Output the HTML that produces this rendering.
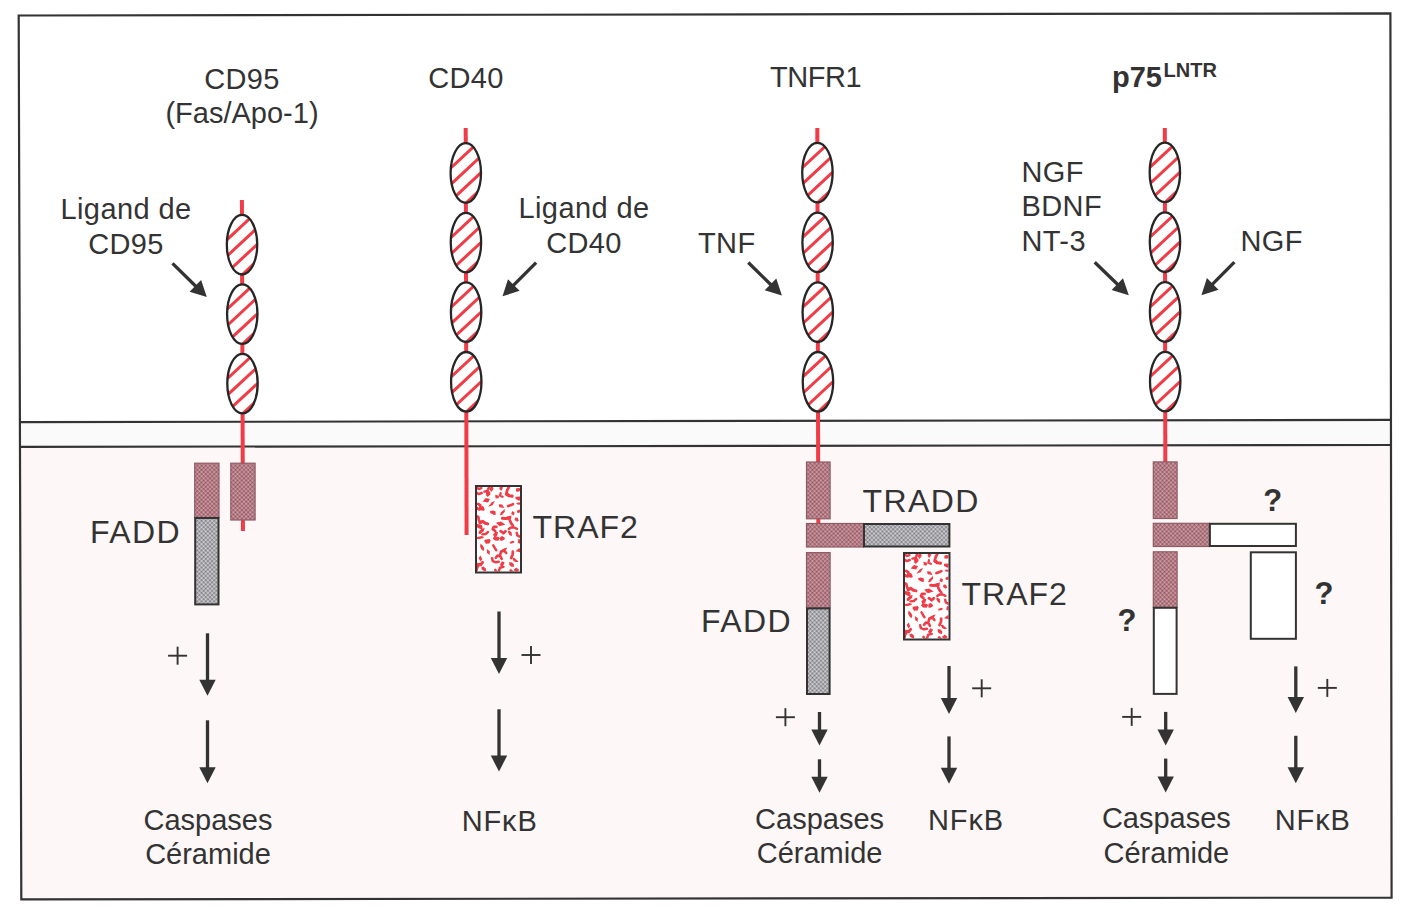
<!DOCTYPE html>
<html><head><meta charset="utf-8"><style>
html,body{margin:0;padding:0;background:#ffffff;}
body{width:1409px;height:911px;overflow:hidden;}
svg{display:block;}
text{font-family:"Liberation Sans", sans-serif;fill:#333333;}
</style></head><body>
<svg width="1409" height="911" viewBox="0 0 1409 911">
<defs><pattern id="pm" width="3" height="3" patternUnits="userSpaceOnUse" patternTransform="rotate(45)"><rect width="3" height="3" fill="#b17a82"/><rect x="0" y="0" width="1.5" height="1.5" fill="#8c5462"/><rect x="1.5" y="1.5" width="1.5" height="1.5" fill="#daa6ae"/></pattern><pattern id="pg" width="3" height="3" patternUnits="userSpaceOnUse" patternTransform="rotate(45)"><rect width="3" height="3" fill="#abaaae"/><rect x="0" y="0" width="1.5" height="1.5" fill="#78787c"/><rect x="1.5" y="1.5" width="1.5" height="1.5" fill="#d8d8dc"/></pattern></defs>
<polygon points="20,446.9 1391,445.0 1391,898.5 21,899.5" fill="#fdf7f7"/>
<polygon points="20,422.1 1391,419.9 1391,445.0 20,446.9" fill="#fafafa"/>
<line x1="19" y1="422.1" x2="1391" y2="419.9" stroke="#333333" stroke-width="2.1"/>
<line x1="20" y1="446.9" x2="1391" y2="445.0" stroke="#333333" stroke-width="2.1"/>
<path d="M18.7,15.5 L1390.4,13.4 L1391.6,897.6 L21.3,899.4 Z" fill="none" stroke="#333333" stroke-width="2.2" stroke-linejoin="miter"/>
<line x1="241.9" y1="200" x2="242.96" y2="531" stroke="#f03c46" stroke-width="4"/>
<clipPath id="c1"><ellipse cx="242.04" cy="244.7" rx="15.2" ry="29.8"/></clipPath>
<ellipse cx="242.04" cy="244.7" rx="15.2" ry="29.8" fill="#ffffff"/>
<g clip-path="url(#c1)" stroke="#f03c46" stroke-width="3.0"><line x1="220.04" y1="246.16" x2="264.03999999999996" y2="205.24"/><line x1="220.04" y1="262.56" x2="264.03999999999996" y2="221.64"/><line x1="220.04" y1="278.96" x2="264.03999999999996" y2="238.04"/><line x1="220.04" y1="295.36" x2="264.03999999999996" y2="254.44"/></g>
<ellipse cx="242.04" cy="244.7" rx="15.2" ry="29.8" fill="none" stroke="#262626" stroke-width="2.3"/>
<clipPath id="c2"><ellipse cx="242.27" cy="314.1" rx="15.2" ry="29.8"/></clipPath>
<ellipse cx="242.27" cy="314.1" rx="15.2" ry="29.8" fill="#ffffff"/>
<g clip-path="url(#c2)" stroke="#f03c46" stroke-width="3.0"><line x1="220.27" y1="315.56" x2="264.27" y2="274.64"/><line x1="220.27" y1="331.96" x2="264.27" y2="291.04"/><line x1="220.27" y1="348.36" x2="264.27" y2="307.44"/><line x1="220.27" y1="364.76" x2="264.27" y2="323.84"/></g>
<ellipse cx="242.27" cy="314.1" rx="15.2" ry="29.8" fill="none" stroke="#262626" stroke-width="2.3"/>
<clipPath id="c3"><ellipse cx="242.49" cy="383.6" rx="15.2" ry="29.8"/></clipPath>
<ellipse cx="242.49" cy="383.6" rx="15.2" ry="29.8" fill="#ffffff"/>
<g clip-path="url(#c3)" stroke="#f03c46" stroke-width="3.0"><line x1="220.49" y1="385.06" x2="264.49" y2="344.14"/><line x1="220.49" y1="401.46" x2="264.49" y2="360.54"/><line x1="220.49" y1="417.86" x2="264.49" y2="376.94"/><line x1="220.49" y1="434.26" x2="264.49" y2="393.34"/></g>
<ellipse cx="242.49" cy="383.6" rx="15.2" ry="29.8" fill="none" stroke="#262626" stroke-width="2.3"/>
<rect x="194.7" y="463.2" width="24.30000000000001" height="54.30000000000001" fill="url(#pm)" stroke="#8e5c66" stroke-width="1.2"/>
<rect x="195.2" y="518" width="23.30000000000001" height="86.39999999999998" fill="url(#pg)" stroke="#333333" stroke-width="2"/>
<rect x="230.8" y="463.2" width="24.299999999999983" height="56.80000000000001" fill="url(#pm)" stroke="#8e5c66" stroke-width="1.2"/>
<line x1="465.7" y1="128" x2="466.60" y2="535" stroke="#f03c46" stroke-width="4"/>
<clipPath id="c4"><ellipse cx="465.8" cy="173" rx="15.2" ry="29.8"/></clipPath>
<ellipse cx="465.8" cy="173" rx="15.2" ry="29.8" fill="#ffffff"/>
<g clip-path="url(#c4)" stroke="#f03c46" stroke-width="3.0"><line x1="443.8" y1="174.46" x2="487.8" y2="133.54"/><line x1="443.8" y1="190.86" x2="487.8" y2="149.94"/><line x1="443.8" y1="207.26" x2="487.8" y2="166.34"/><line x1="443.8" y1="223.66" x2="487.8" y2="182.74"/></g>
<ellipse cx="465.8" cy="173" rx="15.2" ry="29.8" fill="none" stroke="#262626" stroke-width="2.3"/>
<clipPath id="c5"><ellipse cx="465.95" cy="242.6" rx="15.2" ry="29.8"/></clipPath>
<ellipse cx="465.95" cy="242.6" rx="15.2" ry="29.8" fill="#ffffff"/>
<g clip-path="url(#c5)" stroke="#f03c46" stroke-width="3.0"><line x1="443.95" y1="244.06" x2="487.95" y2="203.14"/><line x1="443.95" y1="260.46" x2="487.95" y2="219.54"/><line x1="443.95" y1="276.86" x2="487.95" y2="235.94"/><line x1="443.95" y1="293.26" x2="487.95" y2="252.34"/></g>
<ellipse cx="465.95" cy="242.6" rx="15.2" ry="29.8" fill="none" stroke="#262626" stroke-width="2.3"/>
<clipPath id="c6"><ellipse cx="466.11" cy="312.2" rx="15.2" ry="29.8"/></clipPath>
<ellipse cx="466.11" cy="312.2" rx="15.2" ry="29.8" fill="#ffffff"/>
<g clip-path="url(#c6)" stroke="#f03c46" stroke-width="3.0"><line x1="444.11" y1="313.66" x2="488.11" y2="272.74"/><line x1="444.11" y1="330.06" x2="488.11" y2="289.14"/><line x1="444.11" y1="346.46" x2="488.11" y2="305.54"/><line x1="444.11" y1="362.86" x2="488.11" y2="321.94"/></g>
<ellipse cx="466.11" cy="312.2" rx="15.2" ry="29.8" fill="none" stroke="#262626" stroke-width="2.3"/>
<clipPath id="c7"><ellipse cx="466.26" cy="381.8" rx="15.2" ry="29.8"/></clipPath>
<ellipse cx="466.26" cy="381.8" rx="15.2" ry="29.8" fill="#ffffff"/>
<g clip-path="url(#c7)" stroke="#f03c46" stroke-width="3.0"><line x1="444.26" y1="383.26" x2="488.26" y2="342.34"/><line x1="444.26" y1="399.66" x2="488.26" y2="358.74"/><line x1="444.26" y1="416.06" x2="488.26" y2="375.14"/><line x1="444.26" y1="432.46" x2="488.26" y2="391.54"/></g>
<ellipse cx="466.26" cy="381.8" rx="15.2" ry="29.8" fill="none" stroke="#262626" stroke-width="2.3"/>
<rect x="475" y="485" width="47" height="88.5" fill="#ffffff"/>
<clipPath id="t475"><rect x="477" y="487" width="43" height="84.5"/></clipPath>
<g clip-path="url(#t475)" fill="#f03c46"><path d="M481.3,488.2 L478.8,489.0 L476.3,487.4 L474.6,485.4" fill="none" stroke="#f03c46" stroke-width="2.4" stroke-linecap="round" stroke-linejoin="round"/><path d="M484.4,491.6 L487.5,490.9 L488.4,488.6 L489.5,486.4" fill="none" stroke="#f03c46" stroke-width="2.5" stroke-linecap="round" stroke-linejoin="round"/><polygon points="491.4,491.9 489.2,489.1 492.4,484.8 493.5,488.9"/><polygon points="501.2,491.0 499.3,489.0 500.3,484.4 503.0,487.7"/><path d="M508.8,487.5 L507.5,489.5 L506.5,492.9 L508.7,495.3" fill="none" stroke="#f03c46" stroke-width="2.7" stroke-linecap="round" stroke-linejoin="round"/><polygon points="520.0,490.8 518.6,491.7 516.0,491.5 515.9,488.4 518.2,487.9 520.1,488.3"/><path d="M481.7,493.0 L478.8,494.1 L476.3,492.6" fill="none" stroke="#f03c46" stroke-width="2.5" stroke-linecap="round" stroke-linejoin="round"/><polygon points="487.7,497.0 486.2,495.2 485.6,490.6 487.1,490.4 490.2,491.7 490.4,494.3"/><polygon points="498.4,498.6 495.5,498.3 495.2,494.8 499.1,495.8"/><path d="M500.6,493.1 L500.1,495.7 L502.6,496.7" fill="none" stroke="#f03c46" stroke-width="2.3" stroke-linecap="round" stroke-linejoin="round"/><path d="M506.4,494.1 L508.9,495.7 L512.2,496.1" fill="none" stroke="#f03c46" stroke-width="3.1" stroke-linecap="round" stroke-linejoin="round"/><polygon points="522.5,499.0 519.0,500.8 515.6,498.9 515.4,496.7 521.2,496.5"/><path d="M478.1,503.9 L480.2,505.2 L480.3,508.7 L483.3,509.4" fill="none" stroke="#f03c46" stroke-width="2.8" stroke-linecap="round" stroke-linejoin="round"/><polygon points="482.6,501.5 485.7,498.0 489.9,498.9 488.1,502.5"/><polygon points="488.1,506.7 491.7,502.3 494.9,500.9 492.6,505.2"/><polygon points="504.3,507.9 499.3,507.2 498.8,504.3 502.2,504.4"/><path d="M508.1,506.1 L510.5,505.3 L513.0,504.1" fill="none" stroke="#f03c46" stroke-width="2.6" stroke-linecap="round" stroke-linejoin="round"/><polygon points="521.4,503.9 520.0,504.8 517.3,504.6 516.2,503.5 517.6,502.4 521.0,502.7"/><path d="M474.7,506.5 L477.2,508.5 L479.5,509.3 L482.5,507.6" fill="none" stroke="#f03c46" stroke-width="2.9" stroke-linecap="round" stroke-linejoin="round"/><polygon points="495.7,514.7 493.9,515.1 490.0,512.8 490.2,511.1 493.2,510.5 495.6,511.4"/><polygon points="499.7,515.5 501.1,512.3 504.7,509.0 504.8,511.8 502.2,514.8"/><polygon points="513.8,515.5 511.1,513.9 512.3,511.1 514.6,512.5"/><path d="M518.3,511.5 L521.7,510.3 L521.9,507.6 L522.2,504.9" fill="none" stroke="#f03c46" stroke-width="2.8" stroke-linecap="round" stroke-linejoin="round"/><path d="M480.5,522.8 L478.8,519.8 L478.3,517.1 L475.5,515.9" fill="none" stroke="#f03c46" stroke-width="2.7" stroke-linecap="round" stroke-linejoin="round"/><path d="M507.7,518.3 L505.2,518.4 L502.4,518.3" fill="none" stroke="#f03c46" stroke-width="3.0" stroke-linecap="round" stroke-linejoin="round"/><polygon points="505.3,518.9 507.1,516.6 511.5,515.4 511.1,519.1 509.0,519.9"/><polygon points="518.8,520.4 517.2,521.7 514.5,520.0 515.2,517.6 517.6,517.8"/><polygon points="482.5,529.4 479.0,528.5 476.8,527.1 476.1,523.9 480.4,524.5 482.3,525.5"/><path d="M487.8,523.9 L485.3,523.2 L482.6,521.2 L479.9,522.7" fill="none" stroke="#f03c46" stroke-width="3.0" stroke-linecap="round" stroke-linejoin="round"/><path d="M496.4,526.8 L493.8,526.8 L492.8,529.1 L495.2,531.0" fill="none" stroke="#f03c46" stroke-width="2.8" stroke-linecap="round" stroke-linejoin="round"/><polygon points="505.4,524.4 499.6,526.3 495.9,522.7 500.9,521.5"/><path d="M509.9,520.5 L511.2,523.4 L512.9,525.5" fill="none" stroke="#f03c46" stroke-width="2.7" stroke-linecap="round" stroke-linejoin="round"/><path d="M517.0,528.8 L514.2,527.5 L510.9,527.5 L508.8,529.0" fill="none" stroke="#f03c46" stroke-width="2.4" stroke-linecap="round" stroke-linejoin="round"/><polygon points="478.6,533.7 478.7,531.5 481.7,528.7 484.5,527.9 483.9,531.1 480.4,534.0"/><path d="M488.0,532.0 L485.6,534.0 L482.3,534.4" fill="none" stroke="#f03c46" stroke-width="2.3" stroke-linecap="round" stroke-linejoin="round"/><polygon points="494.6,537.2 493.0,534.8 495.5,531.4 498.1,532.2 497.2,535.4"/><path d="M505.5,531.3 L503.4,533.2 L500.6,531.2" fill="none" stroke="#f03c46" stroke-width="2.8" stroke-linecap="round" stroke-linejoin="round"/><polygon points="512.0,535.9 509.6,535.3 507.8,531.9 508.6,530.5 511.5,532.0"/><path d="M519.8,536.6 L517.3,535.3 L516.7,532.7" fill="none" stroke="#f03c46" stroke-width="2.5" stroke-linecap="round" stroke-linejoin="round"/><polygon points="475.9,538.5 477.3,537.1 481.6,535.9 484.2,537.0 482.8,538.3 478.7,539.2"/><polygon points="484.5,541.5 484.5,539.8 489.7,539.1 490.7,540.7 489.3,543.5 485.9,543.8"/><polygon points="500.0,538.3 498.4,540.8 494.8,540.6 492.7,538.6 494.7,536.1 498.8,537.0"/><polygon points="500.0,540.4 500.2,537.1 502.1,536.0 504.0,537.2 505.1,539.0 502.2,540.8"/><polygon points="509.7,543.5 510.1,541.7 513.1,540.7 514.3,541.5 514.3,542.4 511.7,543.6"/><polygon points="520.3,543.8 517.7,542.7 518.5,538.7 521.0,540.0"/><polygon points="483.8,551.1 481.9,550.1 480.1,546.8 480.5,543.4 482.8,545.7 484.1,548.0"/><path d="M496.3,550.2 L494.9,548.2 L493.3,545.3" fill="none" stroke="#f03c46" stroke-width="2.4" stroke-linecap="round" stroke-linejoin="round"/><polygon points="500.5,552.3 501.3,550.1 504.5,548.2 507.4,547.6 506.0,549.8 502.9,552.3"/><polygon points="515.5,551.3 518.9,548.2 523.5,549.7 520.5,552.3"/><polygon points="480.4,561.4 478.5,557.9 480.5,555.4 482.3,559.2"/><polygon points="489.6,555.1 487.0,552.9 486.8,549.1 489.8,551.3"/><path d="M495.8,557.8 L497.6,555.5 L500.6,556.6 L501.7,558.8" fill="none" stroke="#f03c46" stroke-width="2.6" stroke-linecap="round" stroke-linejoin="round"/><path d="M500.2,554.9 L501.0,551.5 L504.3,550.7 L506.2,553.0" fill="none" stroke="#f03c46" stroke-width="2.6" stroke-linecap="round" stroke-linejoin="round"/><path d="M512.8,551.7 L512.6,554.7 L511.1,558.0" fill="none" stroke="#f03c46" stroke-width="2.7" stroke-linecap="round" stroke-linejoin="round"/><path d="M482.5,562.4 L480.7,564.8 L477.5,564.3" fill="none" stroke="#f03c46" stroke-width="2.9" stroke-linecap="round" stroke-linejoin="round"/><path d="M492.0,558.2 L492.8,561.1 L495.9,562.3 L498.7,561.8" fill="none" stroke="#f03c46" stroke-width="2.5" stroke-linecap="round" stroke-linejoin="round"/><polygon points="500.4,565.9 500.1,564.5 501.9,561.2 503.4,561.7 504.7,562.8 502.6,566.4"/><polygon points="513.6,567.1 511.0,566.6 509.4,565.1 509.2,562.0 512.2,562.4 514.1,564.8"/><polygon points="518.6,561.9 515.8,561.9 513.8,561.2 512.1,558.0 514.2,557.8 517.9,560.9"/><path d="M478.2,565.6 L477.1,567.7 L476.3,570.9 L473.0,570.9" fill="none" stroke="#f03c46" stroke-width="2.8" stroke-linecap="round" stroke-linejoin="round"/><polygon points="486.2,570.4 484.9,571.5 481.7,569.6 481.3,567.3 483.6,566.6 485.8,568.6"/><path d="M499.1,573.6 L496.2,572.3 L495.3,569.9" fill="none" stroke="#f03c46" stroke-width="2.6" stroke-linecap="round" stroke-linejoin="round"/><path d="M503.4,566.9 L500.0,567.7 L498.9,571.0 L497.6,573.8" fill="none" stroke="#f03c46" stroke-width="2.5" stroke-linecap="round" stroke-linejoin="round"/><path d="M510.8,570.7 L512.8,572.7 L511.9,575.2" fill="none" stroke="#f03c46" stroke-width="3.0" stroke-linecap="round" stroke-linejoin="round"/><polygon points="513.5,570.0 516.2,567.5 519.4,570.0 516.3,572.5"/></g>
<rect x="476" y="486" width="45" height="86.5" fill="none" stroke="#333333" stroke-width="2"/>
<line x1="817.3" y1="128" x2="818.33" y2="523" stroke="#f03c46" stroke-width="4"/>
<clipPath id="c8"><ellipse cx="817.42" cy="172.6" rx="15.2" ry="29.8"/></clipPath>
<ellipse cx="817.42" cy="172.6" rx="15.2" ry="29.8" fill="#ffffff"/>
<g clip-path="url(#c8)" stroke="#f03c46" stroke-width="3.0"><line x1="795.42" y1="174.06" x2="839.42" y2="133.14"/><line x1="795.42" y1="190.46" x2="839.42" y2="149.54"/><line x1="795.42" y1="206.86" x2="839.42" y2="165.94"/><line x1="795.42" y1="223.26" x2="839.42" y2="182.34"/></g>
<ellipse cx="817.42" cy="172.6" rx="15.2" ry="29.8" fill="none" stroke="#262626" stroke-width="2.3"/>
<clipPath id="c9"><ellipse cx="817.6" cy="242.4" rx="15.2" ry="29.8"/></clipPath>
<ellipse cx="817.6" cy="242.4" rx="15.2" ry="29.8" fill="#ffffff"/>
<g clip-path="url(#c9)" stroke="#f03c46" stroke-width="3.0"><line x1="795.6" y1="243.86" x2="839.6" y2="202.94"/><line x1="795.6" y1="260.26" x2="839.6" y2="219.34"/><line x1="795.6" y1="276.66" x2="839.6" y2="235.74"/><line x1="795.6" y1="293.06" x2="839.6" y2="252.14"/></g>
<ellipse cx="817.6" cy="242.4" rx="15.2" ry="29.8" fill="none" stroke="#262626" stroke-width="2.3"/>
<clipPath id="c10"><ellipse cx="817.78" cy="312.2" rx="15.2" ry="29.8"/></clipPath>
<ellipse cx="817.78" cy="312.2" rx="15.2" ry="29.8" fill="#ffffff"/>
<g clip-path="url(#c10)" stroke="#f03c46" stroke-width="3.0"><line x1="795.78" y1="313.66" x2="839.78" y2="272.74"/><line x1="795.78" y1="330.06" x2="839.78" y2="289.14"/><line x1="795.78" y1="346.46" x2="839.78" y2="305.54"/><line x1="795.78" y1="362.86" x2="839.78" y2="321.94"/></g>
<ellipse cx="817.78" cy="312.2" rx="15.2" ry="29.8" fill="none" stroke="#262626" stroke-width="2.3"/>
<clipPath id="c11"><ellipse cx="817.96" cy="381.8" rx="15.2" ry="29.8"/></clipPath>
<ellipse cx="817.96" cy="381.8" rx="15.2" ry="29.8" fill="#ffffff"/>
<g clip-path="url(#c11)" stroke="#f03c46" stroke-width="3.0"><line x1="795.96" y1="383.26" x2="839.96" y2="342.34"/><line x1="795.96" y1="399.66" x2="839.96" y2="358.74"/><line x1="795.96" y1="416.06" x2="839.96" y2="375.14"/><line x1="795.96" y1="432.46" x2="839.96" y2="391.54"/></g>
<ellipse cx="817.96" cy="381.8" rx="15.2" ry="29.8" fill="none" stroke="#262626" stroke-width="2.3"/>
<rect x="806.5" y="462.0" width="23.600000000000023" height="56.799999999999955" fill="url(#pm)" stroke="#8e5c66" stroke-width="1.2"/>
<rect x="806.5" y="523.5" width="57" height="23.5" fill="url(#pm)" stroke="#8e5c66" stroke-width="1.2"/>
<rect x="864" y="524" width="85.39999999999998" height="22.5" fill="url(#pg)" stroke="#333333" stroke-width="2"/>
<rect x="806.5" y="552.6" width="23.600000000000023" height="55.299999999999955" fill="url(#pm)" stroke="#8e5c66" stroke-width="1.2"/>
<rect x="807" y="608.4" width="22.600000000000023" height="85.60000000000002" fill="url(#pg)" stroke="#333333" stroke-width="2"/>
<rect x="903" y="552" width="47.5" height="88.5" fill="#ffffff"/>
<clipPath id="t903"><rect x="905" y="554" width="43.5" height="84.5"/></clipPath>
<g clip-path="url(#t903)" fill="#f03c46"><path d="M909.4,555.2 L906.9,556.0 L904.3,554.4 L902.6,552.4" fill="none" stroke="#f03c46" stroke-width="2.4" stroke-linecap="round" stroke-linejoin="round"/><path d="M912.5,558.6 L915.6,557.9 L916.5,555.6 L917.6,553.4" fill="none" stroke="#f03c46" stroke-width="2.5" stroke-linecap="round" stroke-linejoin="round"/><polygon points="919.6,558.9 917.4,556.1 920.6,551.8 921.7,555.9"/><polygon points="929.4,558.0 927.6,556.0 928.5,551.4 931.3,554.7"/><path d="M937.1,554.5 L935.9,556.5 L934.9,559.9 L937.0,562.3" fill="none" stroke="#f03c46" stroke-width="2.7" stroke-linecap="round" stroke-linejoin="round"/><polygon points="948.5,557.8 947.0,558.7 944.4,558.5 944.4,555.4 946.6,554.9 948.6,555.3"/><path d="M909.7,560.0 L906.8,561.1 L904.4,559.6" fill="none" stroke="#f03c46" stroke-width="2.5" stroke-linecap="round" stroke-linejoin="round"/><polygon points="915.8,564.0 914.3,562.2 913.7,557.6 915.2,557.4 918.4,558.7 918.5,561.3"/><polygon points="926.7,565.6 923.8,565.3 923.4,561.8 927.4,562.8"/><path d="M928.9,560.1 L928.4,562.7 L930.9,563.7" fill="none" stroke="#f03c46" stroke-width="2.3" stroke-linecap="round" stroke-linejoin="round"/><path d="M934.8,561.1 L937.2,562.7 L940.5,563.1" fill="none" stroke="#f03c46" stroke-width="3.1" stroke-linecap="round" stroke-linejoin="round"/><polygon points="950.9,566.0 947.5,567.8 944.0,565.9 943.9,563.7 949.6,563.5"/><path d="M906.1,570.9 L908.3,572.2 L908.4,575.7 L911.3,576.4" fill="none" stroke="#f03c46" stroke-width="2.8" stroke-linecap="round" stroke-linejoin="round"/><polygon points="910.7,568.5 913.8,565.0 918.0,565.9 916.2,569.5"/><polygon points="916.3,573.7 919.9,569.3 923.1,567.9 920.7,572.2"/><polygon points="932.5,574.9 927.6,574.2 927.1,571.3 930.5,571.4"/><path d="M936.4,573.1 L938.9,572.3 L941.4,571.1" fill="none" stroke="#f03c46" stroke-width="2.6" stroke-linecap="round" stroke-linejoin="round"/><polygon points="949.9,570.9 948.5,571.8 945.8,571.6 944.7,570.5 946.0,569.4 949.4,569.7"/><path d="M902.7,573.5 L905.2,575.5 L907.5,576.3 L910.5,574.6" fill="none" stroke="#f03c46" stroke-width="2.9" stroke-linecap="round" stroke-linejoin="round"/><polygon points="923.9,581.7 922.1,582.1 918.2,579.8 918.4,578.1 921.4,577.5 923.8,578.4"/><polygon points="928.0,582.5 929.4,579.3 933.0,576.0 933.1,578.8 930.5,581.8"/><polygon points="942.2,582.5 939.5,580.9 940.7,578.1 943.0,579.5"/><path d="M946.8,578.5 L950.2,577.3 L950.3,574.6 L950.7,571.9" fill="none" stroke="#f03c46" stroke-width="2.8" stroke-linecap="round" stroke-linejoin="round"/><path d="M908.5,589.8 L906.9,586.8 L906.3,584.1 L903.5,582.9" fill="none" stroke="#f03c46" stroke-width="2.7" stroke-linecap="round" stroke-linejoin="round"/><path d="M936.0,585.3 L933.6,585.4 L930.7,585.3" fill="none" stroke="#f03c46" stroke-width="3.0" stroke-linecap="round" stroke-linejoin="round"/><polygon points="933.6,585.9 935.5,583.6 939.9,582.4 939.5,586.1 937.4,586.9"/><polygon points="947.3,587.4 945.7,588.7 943.0,587.0 943.6,584.6 946.0,584.8"/><polygon points="910.5,596.4 907.0,595.5 904.9,594.1 904.2,590.9 908.5,591.5 910.4,592.5"/><path d="M916.0,590.9 L913.4,590.2 L910.7,588.2 L908.0,589.7" fill="none" stroke="#f03c46" stroke-width="3.0" stroke-linecap="round" stroke-linejoin="round"/><path d="M924.6,593.8 L922.0,593.8 L921.0,596.1 L923.4,598.0" fill="none" stroke="#f03c46" stroke-width="2.8" stroke-linecap="round" stroke-linejoin="round"/><polygon points="933.6,591.4 927.8,593.3 924.1,589.7 929.2,588.5"/><path d="M938.2,587.5 L939.6,590.4 L941.3,592.5" fill="none" stroke="#f03c46" stroke-width="2.7" stroke-linecap="round" stroke-linejoin="round"/><path d="M945.5,595.8 L942.6,594.5 L939.3,594.5 L937.3,596.0" fill="none" stroke="#f03c46" stroke-width="2.4" stroke-linecap="round" stroke-linejoin="round"/><polygon points="906.7,600.7 906.8,598.5 909.8,595.7 912.6,594.9 912.0,598.1 908.5,601.0"/><path d="M916.2,599.0 L913.7,601.0 L910.4,601.4" fill="none" stroke="#f03c46" stroke-width="2.3" stroke-linecap="round" stroke-linejoin="round"/><polygon points="922.8,604.2 921.3,601.8 923.7,598.4 926.3,599.2 925.4,602.4"/><path d="M933.8,598.3 L931.7,600.2 L928.9,598.2" fill="none" stroke="#f03c46" stroke-width="2.8" stroke-linecap="round" stroke-linejoin="round"/><polygon points="940.3,602.9 938.0,602.3 936.2,598.9 937.0,597.5 939.8,599.0"/><path d="M948.2,603.6 L945.8,602.3 L945.2,599.7" fill="none" stroke="#f03c46" stroke-width="2.5" stroke-linecap="round" stroke-linejoin="round"/><polygon points="904.0,605.5 905.4,604.1 909.6,602.9 912.2,604.0 910.8,605.3 906.7,606.2"/><polygon points="912.7,608.5 912.6,606.8 917.9,606.1 918.8,607.7 917.5,610.5 914.1,610.8"/><polygon points="928.2,605.3 926.6,607.8 923.0,607.6 920.9,605.6 922.9,603.1 927.0,604.0"/><polygon points="928.2,607.4 928.5,604.1 930.3,603.0 932.3,604.2 933.3,606.0 930.5,607.8"/><polygon points="938.1,610.5 938.5,608.7 941.5,607.7 942.7,608.5 942.7,609.4 940.1,610.6"/><polygon points="948.8,610.8 946.2,609.7 947.0,605.7 949.5,607.0"/><polygon points="911.9,618.1 909.9,617.1 908.1,613.8 908.6,610.4 910.9,612.7 912.2,615.0"/><path d="M924.5,617.2 L923.1,615.2 L921.5,612.3" fill="none" stroke="#f03c46" stroke-width="2.4" stroke-linecap="round" stroke-linejoin="round"/><polygon points="928.8,619.3 929.6,617.1 932.8,615.2 935.7,614.6 934.3,616.8 931.2,619.3"/><polygon points="944.0,618.3 947.4,615.2 952.0,616.7 949.0,619.3"/><polygon points="908.5,628.4 906.6,624.9 908.5,622.4 910.3,626.2"/><polygon points="917.7,622.1 915.2,619.9 914.9,616.1 917.9,618.3"/><path d="M924.1,624.8 L925.8,622.5 L928.8,623.6 L929.9,625.8" fill="none" stroke="#f03c46" stroke-width="2.6" stroke-linecap="round" stroke-linejoin="round"/><path d="M928.4,621.9 L929.3,618.5 L932.6,617.7 L934.4,620.0" fill="none" stroke="#f03c46" stroke-width="2.6" stroke-linecap="round" stroke-linejoin="round"/><path d="M941.2,618.7 L941.0,621.7 L939.5,625.0" fill="none" stroke="#f03c46" stroke-width="2.7" stroke-linecap="round" stroke-linejoin="round"/><path d="M910.6,629.4 L908.7,631.8 L905.6,631.3" fill="none" stroke="#f03c46" stroke-width="2.9" stroke-linecap="round" stroke-linejoin="round"/><path d="M920.2,625.2 L920.9,628.1 L924.1,629.3 L926.9,628.8" fill="none" stroke="#f03c46" stroke-width="2.5" stroke-linecap="round" stroke-linejoin="round"/><polygon points="928.7,632.9 928.3,631.5 930.2,628.2 931.7,628.7 933.0,629.8 930.8,633.4"/><polygon points="941.9,634.1 939.4,633.6 937.8,632.1 937.6,629.0 940.6,629.4 942.4,631.8"/><polygon points="947.1,628.9 944.3,628.9 942.3,628.2 940.5,625.0 942.7,624.8 946.3,627.9"/><path d="M906.3,632.6 L905.1,634.7 L904.3,637.9 L901.0,637.9" fill="none" stroke="#f03c46" stroke-width="2.8" stroke-linecap="round" stroke-linejoin="round"/><polygon points="914.3,637.4 913.0,638.5 909.8,636.6 909.4,634.3 911.7,633.6 913.9,635.6"/><path d="M927.4,640.6 L924.5,639.3 L923.5,636.9" fill="none" stroke="#f03c46" stroke-width="2.6" stroke-linecap="round" stroke-linejoin="round"/><path d="M931.7,633.9 L928.2,634.7 L927.2,638.0 L925.9,640.8" fill="none" stroke="#f03c46" stroke-width="2.5" stroke-linecap="round" stroke-linejoin="round"/><path d="M939.2,637.7 L941.2,639.7 L940.3,642.2" fill="none" stroke="#f03c46" stroke-width="3.0" stroke-linecap="round" stroke-linejoin="round"/><polygon points="941.9,637.0 944.6,634.5 947.8,637.0 944.7,639.5"/></g>
<rect x="904" y="553" width="45.5" height="86.5" fill="none" stroke="#333333" stroke-width="2"/>
<line x1="1164.8" y1="128" x2="1165.34" y2="463" stroke="#f03c46" stroke-width="4"/>
<clipPath id="c12"><ellipse cx="1164.87" cy="172.4" rx="15.2" ry="29.8"/></clipPath>
<ellipse cx="1164.87" cy="172.4" rx="15.2" ry="29.8" fill="#ffffff"/>
<g clip-path="url(#c12)" stroke="#f03c46" stroke-width="3.0"><line x1="1142.87" y1="173.86" x2="1186.87" y2="132.94"/><line x1="1142.87" y1="190.26" x2="1186.87" y2="149.34"/><line x1="1142.87" y1="206.66" x2="1186.87" y2="165.74"/><line x1="1142.87" y1="223.06" x2="1186.87" y2="182.14"/></g>
<ellipse cx="1164.87" cy="172.4" rx="15.2" ry="29.8" fill="none" stroke="#262626" stroke-width="2.3"/>
<clipPath id="c13"><ellipse cx="1164.98" cy="242.2" rx="15.2" ry="29.8"/></clipPath>
<ellipse cx="1164.98" cy="242.2" rx="15.2" ry="29.8" fill="#ffffff"/>
<g clip-path="url(#c13)" stroke="#f03c46" stroke-width="3.0"><line x1="1142.98" y1="243.66" x2="1186.98" y2="202.74"/><line x1="1142.98" y1="260.06" x2="1186.98" y2="219.14"/><line x1="1142.98" y1="276.46" x2="1186.98" y2="235.54"/><line x1="1142.98" y1="292.86" x2="1186.98" y2="251.94"/></g>
<ellipse cx="1164.98" cy="242.2" rx="15.2" ry="29.8" fill="none" stroke="#262626" stroke-width="2.3"/>
<clipPath id="c14"><ellipse cx="1165.09" cy="312.0" rx="15.2" ry="29.8"/></clipPath>
<ellipse cx="1165.09" cy="312.0" rx="15.2" ry="29.8" fill="#ffffff"/>
<g clip-path="url(#c14)" stroke="#f03c46" stroke-width="3.0"><line x1="1143.09" y1="313.46" x2="1187.09" y2="272.54"/><line x1="1143.09" y1="329.86" x2="1187.09" y2="288.94"/><line x1="1143.09" y1="346.26" x2="1187.09" y2="305.34"/><line x1="1143.09" y1="362.66" x2="1187.09" y2="321.74"/></g>
<ellipse cx="1165.09" cy="312.0" rx="15.2" ry="29.8" fill="none" stroke="#262626" stroke-width="2.3"/>
<clipPath id="c15"><ellipse cx="1165.21" cy="381.6" rx="15.2" ry="29.8"/></clipPath>
<ellipse cx="1165.21" cy="381.6" rx="15.2" ry="29.8" fill="#ffffff"/>
<g clip-path="url(#c15)" stroke="#f03c46" stroke-width="3.0"><line x1="1143.21" y1="383.06" x2="1187.21" y2="342.14"/><line x1="1143.21" y1="399.46" x2="1187.21" y2="358.54"/><line x1="1143.21" y1="415.86" x2="1187.21" y2="374.94"/><line x1="1143.21" y1="432.26" x2="1187.21" y2="391.34"/></g>
<ellipse cx="1165.21" cy="381.6" rx="15.2" ry="29.8" fill="none" stroke="#262626" stroke-width="2.3"/>
<rect x="1153.3" y="461.9" width="23.799999999999955" height="56.60000000000002" fill="url(#pm)" stroke="#8e5c66" stroke-width="1.2"/>
<rect x="1153.3" y="523.3" width="56.100000000000136" height="23.200000000000045" fill="url(#pm)" stroke="#8e5c66" stroke-width="1.2"/>
<rect x="1209.9" y="523.8" width="86.0" height="22.200000000000045" fill="#ffffff" stroke="#333333" stroke-width="2"/>
<rect x="1153.3" y="551.8" width="23.799999999999955" height="55.5" fill="url(#pm)" stroke="#8e5c66" stroke-width="1.2"/>
<rect x="1153.8" y="607.8" width="22.799999999999955" height="86.10000000000002" fill="#ffffff" stroke="#333333" stroke-width="2"/>
<rect x="1250.8" y="552.3" width="45.100000000000136" height="86.5" fill="#ffffff" stroke="#333333" stroke-width="2"/>
<line x1="172.5" y1="263.4" x2="196.79897986074835" y2="287.2030823125698" stroke="#333333" stroke-width="3.3"/>
<polygon points="206.8,297 189.6,291.7 201.1,279.9" fill="#333333"/>
<line x1="536.1" y1="262.7" x2="512.3994949366116" y2="286.4005050633884" stroke="#333333" stroke-width="3.3"/>
<polygon points="502.5,296.3 508.0,279.2 519.6,290.8" fill="#333333"/>
<line x1="748.3" y1="262.5" x2="771.9265761742337" y2="285.77499021926" stroke="#333333" stroke-width="3.3"/>
<polygon points="781.9,295.6 764.7,290.2 776.3,278.5" fill="#333333"/>
<line x1="1094.7" y1="262.2" x2="1118.7395700152676" y2="285.4641000147752" stroke="#333333" stroke-width="3.3"/>
<polygon points="1128.8,295.2 1111.6,290.0 1123.0,278.2" fill="#333333"/>
<line x1="1234.4" y1="262.2" x2="1211.2994949366118" y2="285.30050506338836" stroke="#333333" stroke-width="3.3"/>
<polygon points="1201.4,295.2 1206.9,278.1 1218.5,289.7" fill="#333333"/>
<line x1="207.5" y1="633.3" x2="207.5" y2="681.7" stroke="#333333" stroke-width="3.3"/>
<polygon points="207.5,695.7 199.3,679.7 215.7,679.7" fill="#333333"/>
<line x1="207.5" y1="720.3" x2="207.5" y2="769.2" stroke="#333333" stroke-width="3.3"/>
<polygon points="207.5,783.2 199.3,767.2 215.7,767.2" fill="#333333"/>
<line x1="499" y1="611.5" x2="499.0" y2="660.1" stroke="#333333" stroke-width="3.3"/>
<polygon points="499,674.1 490.8,658.1 507.2,658.1" fill="#333333"/>
<line x1="499" y1="709.3" x2="499.0" y2="757.6" stroke="#333333" stroke-width="3.3"/>
<polygon points="499,771.6 490.8,755.6 507.2,755.6" fill="#333333"/>
<line x1="819.5" y1="712" x2="819.5" y2="731.5" stroke="#333333" stroke-width="3.3"/>
<polygon points="819.5,745.5 811.3,729.5 827.7,729.5" fill="#333333"/>
<line x1="819.5" y1="759.3" x2="819.5" y2="778.8" stroke="#333333" stroke-width="3.3"/>
<polygon points="819.5,792.8 811.3,776.8 827.7,776.8" fill="#333333"/>
<line x1="949" y1="666" x2="949.0" y2="700.0" stroke="#333333" stroke-width="3.3"/>
<polygon points="949,714 940.8,698.0 957.2,698.0" fill="#333333"/>
<line x1="949" y1="736.4" x2="949.0" y2="769.8" stroke="#333333" stroke-width="3.3"/>
<polygon points="949,783.8 940.8,767.8 957.2,767.8" fill="#333333"/>
<line x1="1165.7" y1="711.9" x2="1165.7" y2="731.4" stroke="#333333" stroke-width="3.3"/>
<polygon points="1165.7,745.4 1157.5,729.4 1173.9,729.4" fill="#333333"/>
<line x1="1165.7" y1="758.6" x2="1165.7" y2="778.6" stroke="#333333" stroke-width="3.3"/>
<polygon points="1165.7,792.6 1157.5,776.6 1173.9,776.6" fill="#333333"/>
<line x1="1295.8" y1="666.4" x2="1295.8" y2="699.1" stroke="#333333" stroke-width="3.3"/>
<polygon points="1295.8,713.1 1287.6,697.1 1304.0,697.1" fill="#333333"/>
<line x1="1295.8" y1="735.8" x2="1295.8" y2="769.3" stroke="#333333" stroke-width="3.3"/>
<polygon points="1295.8,783.3 1287.6,767.3 1304.0,767.3" fill="#333333"/>
<line x1="168.1" y1="655.7" x2="187.1" y2="655.7" stroke="#333333" stroke-width="1.9"/>
<line x1="177.6" y1="646.7" x2="177.6" y2="664.7" stroke="#333333" stroke-width="1.9"/>
<line x1="521.5" y1="655" x2="540.5" y2="655" stroke="#333333" stroke-width="1.9"/>
<line x1="531" y1="646.0" x2="531" y2="664.0" stroke="#333333" stroke-width="1.9"/>
<line x1="775.9" y1="717.2" x2="794.9" y2="717.2" stroke="#333333" stroke-width="1.9"/>
<line x1="785.4" y1="708.2" x2="785.4" y2="726.2" stroke="#333333" stroke-width="1.9"/>
<line x1="972.2" y1="688.3" x2="991.2" y2="688.3" stroke="#333333" stroke-width="1.9"/>
<line x1="981.7" y1="679.3" x2="981.7" y2="697.3" stroke="#333333" stroke-width="1.9"/>
<line x1="1122.2" y1="716.9" x2="1141.2" y2="716.9" stroke="#333333" stroke-width="1.9"/>
<line x1="1131.7" y1="707.9" x2="1131.7" y2="725.9" stroke="#333333" stroke-width="1.9"/>
<line x1="1317.8" y1="687.9" x2="1336.8" y2="687.9" stroke="#333333" stroke-width="1.9"/>
<line x1="1327.3" y1="678.9" x2="1327.3" y2="696.9" stroke="#333333" stroke-width="1.9"/>
<text x="242" y="88.5" text-anchor="middle" font-size="29" font-weight="normal" letter-spacing="0.4">CD95</text>
<text x="242" y="122.5" text-anchor="middle" font-size="29" font-weight="normal" letter-spacing="0">(Fas/Apo-1)</text>
<text x="466" y="88" text-anchor="middle" font-size="29" font-weight="normal" letter-spacing="0.4">CD40</text>
<text x="815.6" y="87.4" text-anchor="middle" font-size="29" font-weight="normal" letter-spacing="-0.5">TNFR1</text>
<text x="1112" y="87" font-size="29" font-weight="bold">p75<tspan font-size="20" dx="1.6" dy="-10.3">LNTR</tspan></text>
<text x="126" y="218.6" text-anchor="middle" font-size="29" font-weight="normal" letter-spacing="0.4">Ligand de</text>
<text x="126" y="253.5" text-anchor="middle" font-size="29" font-weight="normal" letter-spacing="0.4">CD95</text>
<text x="584" y="218" text-anchor="middle" font-size="29" font-weight="normal" letter-spacing="0.4">Ligand de</text>
<text x="584" y="252.9" text-anchor="middle" font-size="29" font-weight="normal" letter-spacing="0.4">CD40</text>
<text x="698" y="252.6" text-anchor="start" font-size="29" font-weight="normal" letter-spacing="0.4">TNF</text>
<text x="1021.5" y="181.9" text-anchor="start" font-size="29" font-weight="normal" letter-spacing="0.4">NGF</text>
<text x="1021.5" y="216" text-anchor="start" font-size="29" font-weight="normal" letter-spacing="0.4">BDNF</text>
<text x="1021.5" y="251.2" text-anchor="start" font-size="29" font-weight="normal" letter-spacing="0.4">NT-3</text>
<text x="1240.5" y="251.2" text-anchor="start" font-size="29" font-weight="normal" letter-spacing="0.4">NGF</text>
<text x="90" y="542.5" text-anchor="start" font-size="32" font-weight="normal" letter-spacing="1.4">FADD</text>
<text x="532.5" y="537.8" text-anchor="start" font-size="32" font-weight="normal" letter-spacing="1.0">TRAF2</text>
<text x="862.5" y="512" text-anchor="start" font-size="32" font-weight="normal" letter-spacing="1.4">TRADD</text>
<text x="701" y="632.2" text-anchor="start" font-size="32" font-weight="normal" letter-spacing="1.4">FADD</text>
<text x="961.5" y="604.5" text-anchor="start" font-size="32" font-weight="normal" letter-spacing="1.0">TRAF2</text>
<text x="1272.7" y="511.4" text-anchor="middle" font-size="31" font-weight="bold" letter-spacing="0">?</text>
<text x="1324" y="604" text-anchor="middle" font-size="31" font-weight="bold" letter-spacing="0">?</text>
<text x="1127" y="631.2" text-anchor="middle" font-size="31" font-weight="bold" letter-spacing="0">?</text>
<text x="208" y="829.5" text-anchor="middle" font-size="29" font-weight="normal" letter-spacing="0">Caspases</text>
<text x="208" y="864" text-anchor="middle" font-size="29" font-weight="normal" letter-spacing="0">Céramide</text>
<text x="499.7" y="831" text-anchor="middle" font-size="29" font-weight="normal" letter-spacing="0.9">NF&#954;B</text>
<text x="819.6" y="828.8" text-anchor="middle" font-size="29" font-weight="normal" letter-spacing="0">Caspases</text>
<text x="819.6" y="862.9" text-anchor="middle" font-size="29" font-weight="normal" letter-spacing="0">Céramide</text>
<text x="966" y="829.8" text-anchor="middle" font-size="29" font-weight="normal" letter-spacing="0.9">NF&#954;B</text>
<text x="1166.4" y="828" text-anchor="middle" font-size="29" font-weight="normal" letter-spacing="0">Caspases</text>
<text x="1166.4" y="863" text-anchor="middle" font-size="29" font-weight="normal" letter-spacing="0">Céramide</text>
<text x="1312.8" y="829.8" text-anchor="middle" font-size="29" font-weight="normal" letter-spacing="0.9">NF&#954;B</text>
</svg>
</body></html>
